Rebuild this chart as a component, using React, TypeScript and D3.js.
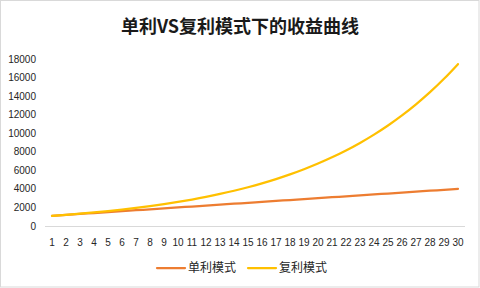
import React from "react";
import * as d3 from "d3";

const periods = [1,2,3,4,5,6,7,8,9,10,11,12,13,14,15,16,17,18,19,20,21,22,23,24,25,26,27,28,29,30];
const simpleValues = [1100,1200,1300,1400,1500,1600,1700,1800,1900,2000,2100,2200,2300,2400,2500,2600,2700,2800,2900,3000,3100,3200,3300,3400,3500,3600,3700,3800,3900,4000];
const compoundValues = [1100,1210,1331,1464,1611,1772,1949,2144,2358,2594,2853,3138,3452,3797,4177,4595,5054,5560,6116,6727,7400,8140,8954,9850,10835,11918,13110,14421,15863,17449];
const yTicks = [0,2000,4000,6000,8000,10000,12000,14000,16000,18000];
const seriesNames = ["单利模式", "复利模式"];
const title = "单利VS复利模式下的收益曲线";

const W = 480, H = 288;
const colors = ["#ED7D31", "#FFC000"];
const cjk = "'Noto Sans CJK SC', 'Noto Sans', sans-serif";
const num = "'Liberation Sans', Arial, sans-serif";

export default function App() {
  const x = d3.scaleBand<number>().domain(periods).range([45, 465]);
  const y = d3.scaleLinear().domain([0, 18000]).range([226, 59]);
  const cx = (d: number) => (x(d) as number) + x.bandwidth() / 2;
  const line = d3.line<number>().x((_, i) => cx(periods[i])).y((v) => y(v)).curve(d3.curveMonotoneX);
  const series = [simpleValues, compoundValues];
  return (
    <svg width={W} height={H} style={{ position: "absolute", left: 0, top: 0, background: "#fff" }}>
      <rect x={0.5} y={0.5} width={478.5} height={286.5} fill="#fff" stroke="#d9d9d9" />
      <text x={240} y={33} textAnchor="middle" fontFamily={cjk} fontWeight="bold" fontSize={18} fill="#1a1a1a">{title}</text>
      <line x1={45} x2={465} y1={y(0) + 0.5} y2={y(0) + 0.5} stroke="#d9d9d9" />
      {yTicks.map((t) => (
        <text key={t} x={36} y={y(t) + 3.5} textAnchor="end" fontFamily={num} fontSize={10} fill="#262626">{t}</text>
      ))}
      {periods.map((p) => (
        <text key={p} x={cx(p)} y={246} textAnchor="middle" fontFamily={num} fontSize={10} fill="#262626">{p}</text>
      ))}
      {series.map((s, i) => (
        <path key={i} d={line(s) || ""} fill="none" stroke={colors[i]} strokeWidth={2.25} strokeLinecap="round" strokeLinejoin="round" />
      ))}
      {seriesNames.map((n, i) => {
        const lx = 157 + i * 91;
        return (
          <g key={n}>
            <line x1={lx} x2={lx + 28} y1={268} y2={268} stroke={colors[i]} strokeWidth={2.25} strokeLinecap="round" />
            <text x={lx + 31} y={272} fontFamily={cjk} fontSize={12} fill="#262626">{n}</text>
          </g>
        );
      })}
    </svg>
  );
}
